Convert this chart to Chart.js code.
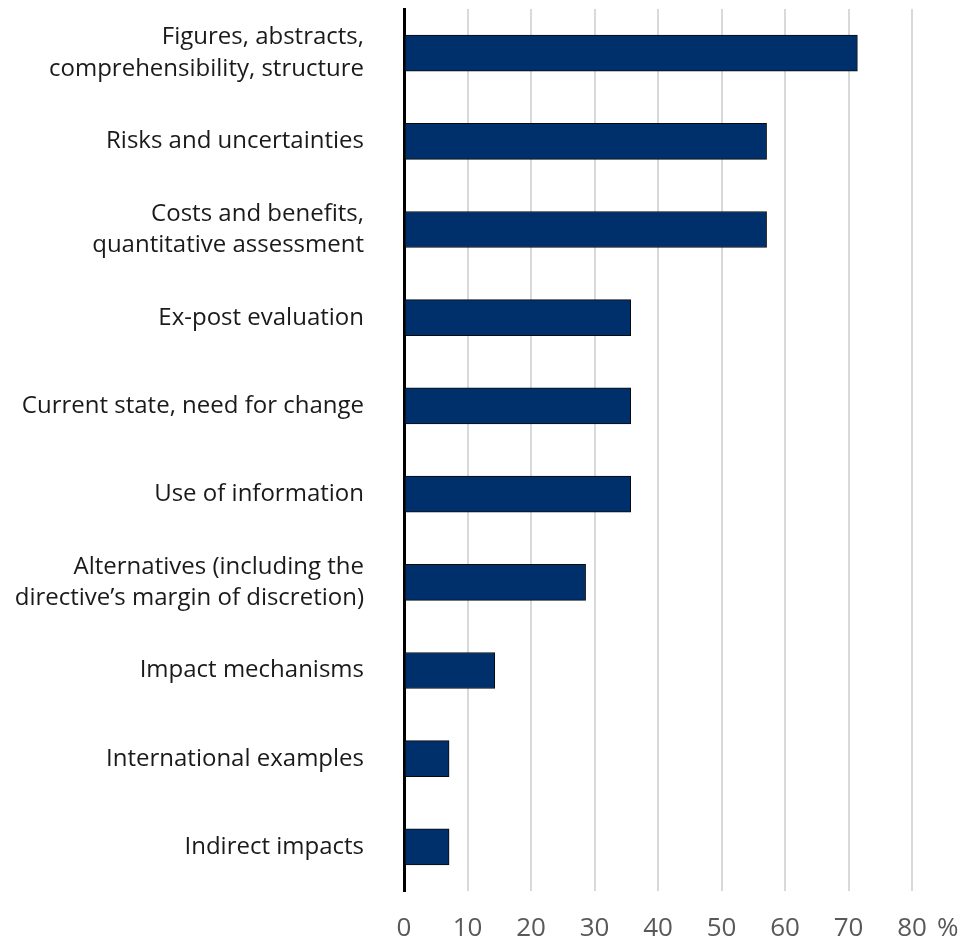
<!DOCTYPE html>
<html>
<head>
<meta charset="utf-8">
<script src="https://cdn.jsdelivr.net/npm/chart.js@4/dist/chart.umd.min.js"></script>
<style>
  html, body { margin: 0; padding: 0; background: #fff; }
  #wrap { width: 962px; height: 941px; position: relative; }
</style>
</head>
<body>
<div id="wrap"><canvas id="chart"></canvas></div>
<script>
  // share of assessments that raised each topic, in percent
  const categories = [
    ['Figures, abstracts,', 'comprehensibility, structure'],
    'Risks and uncertainties',
    ['Costs and benefits,', 'quantitative assessment'],
    'Ex-post evaluation',
    'Current state, need for change',
    'Use of information',
    ['Alternatives (including the', 'directive\u2019s margin of discretion)'],
    'Impact mechanisms',
    'International examples',
    'Indirect impacts'
  ]
  const shares = [71.4, 57.1, 57.1, 35.7, 35.7, 35.7, 28.6, 14.3, 7.1, 7.1]
  const xMax = 80
  const xStep = 10
  const unitLabel = '%'

  const fontFamily = '"Open Sans", "Noto Sans", sans-serif'
  const tickSize = 26
  const tickPad = 22

  // puts the unit sign just right of the last tick label
  const unitPlugin = {
    id: 'unitLabel',
    afterDraw(chart) {
      const scale = chart.scales.x
      const ctx = chart.ctx
      const x = scale.getPixelForValue(xMax)
      const y = chart.chartArea.bottom + tickPad + tickSize * 1.2 / 2
      ctx.save()
      ctx.font = `${tickSize}px ${fontFamily}`
      ctx.fillStyle = '#595959'
      ctx.textAlign = 'left'
      ctx.textBaseline = 'middle'
      ctx.fillText(unitLabel, x + 25, y)
      ctx.restore()
    }
  }

  new Chart(document.getElementById('chart'), {
    type: 'bar',
    data: {
      labels: categories,
      datasets: [{
        data: shares,
        backgroundColor: '#00306b',
        borderColor: '#0a0a0a',
        borderWidth: 1,
        borderSkipped: false,
        barThickness: 36
      }]
    },
    options: {
      indexAxis: 'y',
      responsive: true,
      maintainAspectRatio: false,
      animation: false,
      layout: { padding: { top: 9, right: 50, bottom: 0, left: 0 } },
      plugins: {
        legend: { display: false },
        tooltip: { enabled: false }
      },
      scales: {
        x: {
          min: 0,
          max: xMax,
          ticks: {
            stepSize: xStep,
            color: '#595959',
            font: { family: fontFamily, size: tickSize },
            padding: tickPad
          },
          grid: {
            color: (c) => c.tick && c.tick.value === 0 ? 'rgba(0,0,0,0)' : '#d9d9d9',
            lineWidth: 2,
            drawTicks: false
          },
          border: { display: false },
          afterFit(scale) {
            scale.height = 50
          }
        },
        y: {
          ticks: {
            color: '#1a1a1a',
            font: { family: fontFamily, size: 24, lineHeight: 1.3 },
            padding: 40,
            autoSkip: false
          },
          grid: { display: false, drawTicks: false },
          border: { display: true, color: '#000', width: 3 },
          afterFit(scale) {
            // fixed label column; bands already leave room for the outer labels
            scale.width = 404
            scale.paddingTop = 0
            scale.paddingBottom = 0
          }
        }
      }
    },
    plugins: [unitPlugin]
  })
</script>
</body>
</html>
